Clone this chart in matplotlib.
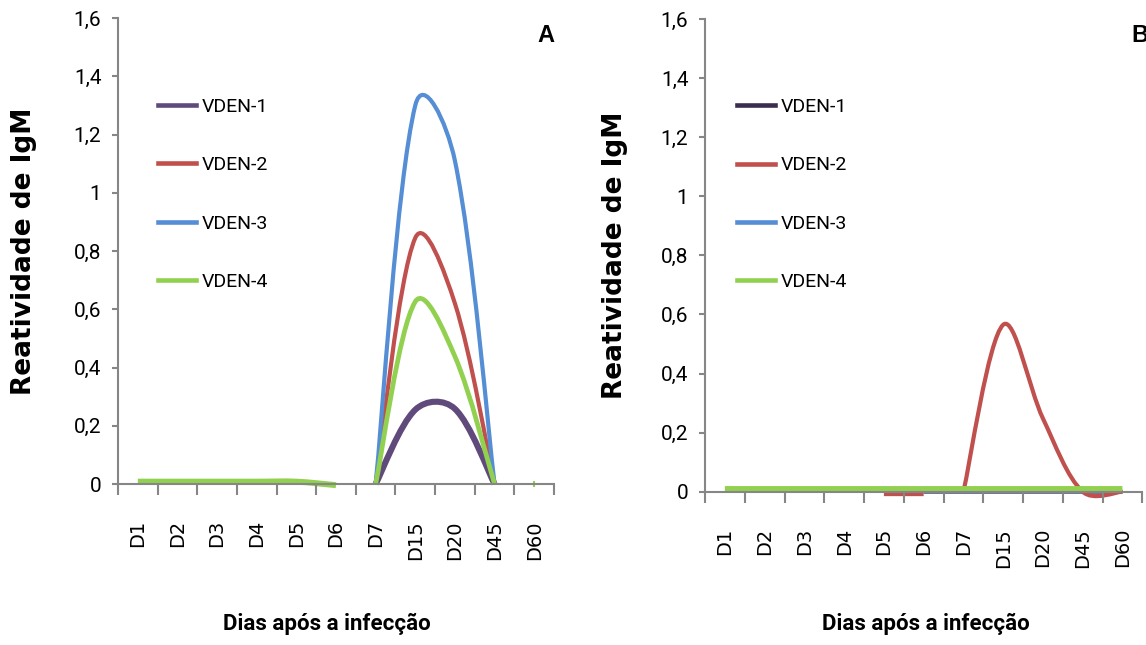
import numpy as np
import matplotlib
matplotlib.use("Agg")
import matplotlib.pyplot as plt
from matplotlib.path import Path
from matplotlib.patches import PathPatch
from matplotlib.lines import Line2D

nan = np.nan
days = ["D1", "D2", "D3", "D4", "D5", "D6", "D7", "D15", "D20", "D45", "D60"]
series = ["VDEN-1", "VDEN-2", "VDEN-3", "VDEN-4"]

# painel A
a_vden1 = [nan] * 6 + [0, 0.255, 0.258, 0, nan]
a_vden2 = [nan] * 6 + [0, 0.845, 0.62, 0, nan]
a_vden3 = [nan] * 6 + [0, 1.30, 1.11, 0, nan]
a_vden4 = [0.008, 0.008, 0.008, 0.008, 0.008, -0.004, 0, 0.626, 0.438, 0, 0]
a_breaks = {"VDEN-4": [6, 10]}

# painel B
b_vden1 = [nan] * 5 + [0, 0, 0, 0, 0, 0]
b_vden2 = [nan] * 4 + [-0.008, -0.008, 0, 0.565, 0.248, 0, 0]
b_vden3 = [nan] * 5 + [0, 0, 0, 0, 0, 0]
b_vden4 = [0.009] * 11
b_breaks = {"VDEN-2": [6]}

colors_a = ["#604A7B", "#C0504D", "#558ED5", "#92D050"]
colors_b = ["#3B2D50", "#C0504D", "#558ED5", "#92D050"]
yticks = [0, 0.2, 0.4, 0.6, 0.8, 1, 1.2, 1.4, 1.6]
ytick_labels = ["0", "0,2", "0,4", "0,6", "0,8", "1", "1,2", "1,4", "1,6"]

narrow = ["Liberation Sans Narrow", "Roboto"]
grey = "#868686"


def runs_of(y, breaks=()):
    runs, cur = [], []
    for i, v in enumerate(y):
        if np.isnan(v) or i in breaks:
            if cur:
                runs.append(cur)
            cur = []
        if not np.isnan(v):
            cur.append((i, v))
    if cur:
        runs.append(cur)
    return runs


def smooth_path(pts, scale):
    # linha suavizada (bezier, catmull-rom centripeta em pixels)
    P = np.asarray(pts, float) * scale
    n = len(P)
    verts, codes = [P[0]], [Path.MOVETO]
    for i in range(n - 1):
        p0, p1 = P[max(i - 1, 0)], P[i]
        p2, p3 = P[i + 1], P[min(i + 2, n - 1)]
        d01 = np.linalg.norm(p1 - p0) ** 0.5
        d12 = np.linalg.norm(p2 - p1) ** 0.5
        d23 = np.linalg.norm(p3 - p2) ** 0.5
        f1 = 1 / 6 if i == 0 else d12 / (3 * (d01 + d12))
        f2 = 1 / 6 if i == n - 2 else d12 / (3 * (d12 + d23))
        verts += [p1 + (p2 - p0) * f1, p2 - (p3 - p1) * f2, p2]
        codes += [Path.CURVE4] * 3
    return Path(np.array(verts) / scale, codes)


def draw_series(ax, y, color, lw, breaks=(), flat_lw=None):
    bb = ax.get_position()
    scale = np.array([bb.width * 1146 / 11, bb.height * 645 / 1.6])
    for run in runs_of(y, breaks):
        if len(run) == 1:
            ax.plot([run[0][0]], [run[0][1]], marker="|", ms=5, mew=1.5,
                    color=color, clip_on=False)
        else:
            flat = max(abs(v) for _, v in run) < 0.02
            w = flat_lw if (flat and flat_lw) else lw
            ax.add_patch(PathPatch(smooth_path(run, scale), facecolor="none",
                                   edgecolor=color, lw=w, clip_on=False,
                                   capstyle="butt", joinstyle="round"))


def style_axis(ax):
    ax.set_xlim(-0.5, 10.5)
    ax.set_ylim(0, 1.6)
    for s in ["top", "right"]:
        ax.spines[s].set_visible(False)
    for s in ["left", "bottom"]:
        ax.spines[s].set_color(grey)
        ax.spines[s].set_linewidth(1.5)
    ax.set_xticks(np.arange(-0.5, 11, 1))
    ax.set_xticklabels([])
    ax.set_xticks(np.arange(11), minor=True)
    ax.set_xticklabels(days, minor=True, rotation=90, fontsize=14,
                       family="DejaVu Sans", va="top")
    ax.tick_params(axis="x", which="major", length=8, width=1.5, color=grey)
    ax.tick_params(axis="x", which="minor", length=0, pad=26)
    ax.set_yticks(yticks)
    ax.set_yticklabels(ytick_labels, fontsize=15, family=narrow)
    ax.tick_params(axis="y", length=4, width=1.5, color=grey, pad=8)
    ax.set_ylabel("Reatividade de IgM", fontsize=19, fontweight="bold",
                  family="DejaVu Sans")
    ax.set_xlabel("Dias após a infecção", fontsize=16, fontweight="bold",
                  family=narrow)


fig = plt.figure(figsize=(11.46, 6.45), dpi=100)
axA = fig.add_axes([118 / 1146, 1 - 484 / 645, 436 / 1146, 466 / 645])
axB = fig.add_axes([705 / 1146, 1 - 491.7 / 645, 437.3 / 1146, 472.7 / 645])

# painel A
for name, y, c, lw in zip(series, [a_vden1, a_vden2, a_vden3, a_vden4],
                          colors_a, [4.4, 3.0, 3.0, 3.4]):
    draw_series(axA, y, c, lw, a_breaks.get(name, ()), flat_lw=4.3)

# painel B (VDEN-3 por baixo)
vals_b = [b_vden1, b_vden2, b_vden3, b_vden4]
lws_b = [2.6, 3.0, 2.6, 4.3]
for k in [2, 0, 1, 3]:
    draw_series(axB, vals_b[k], colors_b[k], lws_b[k],
                b_breaks.get(series[k], ()))

style_axis(axA)
style_axis(axB)
axA.yaxis.set_label_coords(-0.186, 0.5)
axB.yaxis.set_label_coords(-0.176, 0.5)
axA.xaxis.set_label_coords(0.478, -0.277)
axB.xaxis.set_label_coords(0.505, -0.257)

for ax, cols, x0, y0 in [(axA, colors_a, 0.092, 0.829),
                         (axB, colors_b, 0.074, 0.833)]:
    handles = [Line2D([], [], color=c, lw=3.3) for c in cols]
    ax.legend(handles, series, loc="upper left", bbox_to_anchor=(x0, y0),
              frameon=False, borderaxespad=0, borderpad=0,
              handlelength=1.95, handletextpad=0.3, labelspacing=2.08,
              prop={"family": narrow, "size": 14})

fig.text(537 / 1146, 1 - 35 / 645, "A", fontsize=17, fontweight="bold",
         family="Liberation Sans", va="center", ha="left")
fig.text(1131 / 1146, 1 - 35 / 645, "B", fontsize=17, fontweight="bold",
         family="Liberation Sans", va="center", ha="left")

fig.savefig("out.png", dpi=100)
